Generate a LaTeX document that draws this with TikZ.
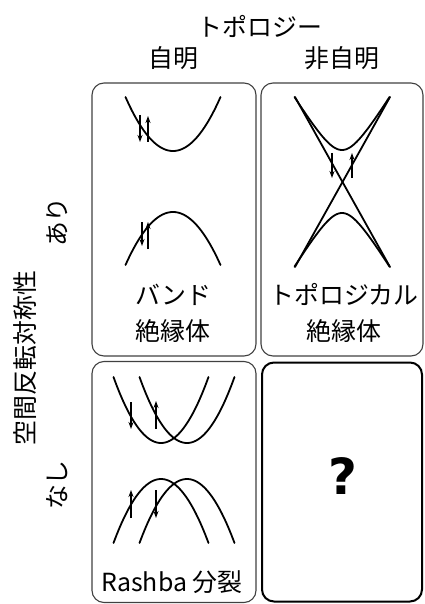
\documentclass[tikz,border=0pt]{standalone}
\usepackage{fontspec}
\setmainfont{Noto Sans CJK JP}
\newfontfamily\qfont{DejaVu Sans}
\usetikzlibrary{arrows.meta}
\tikzset{
  panel/.style={draw=black!75, line width=1.1bp, rounded corners=12bp, inner sep=0pt},
  panelbold/.style={draw=black, line width=2bp, rounded corners=12bp, inner sep=0pt},
  lbl/.style={font=\fontsize{25}{36}\selectfont, inner sep=0pt, align=center},
  band/.style={line width=1.8bp, line cap=round},
  spin/.style={line width=1.3bp, -{Stealth[length=7bp,width=5bp]}},
}
\begin{document}
\begin{tikzpicture}[x=1bp,y=-1bp]
\useasboundingbox (0,0) rectangle (424,604);
% panels
\node[panel, minimum width=164bp, minimum height=273bp] (tl) at (174,219.5) {};
\node[panel, minimum width=162bp, minimum height=273bp] (tr) at (342,219.5) {};
\node[panel, minimum width=164bp, minimum height=241bp] (bl) at (174,482) {};
\node[panelbold, minimum width=160bp, minimum height=239bp] (br) at (342,482) {};
% headers
\node[lbl] (topo) at (260,26) {トポロジー};
\node[lbl] (triv) at (173,58) {自明};
\node[lbl] (ntriv) at (342,58) {非自明};
\node[lbl, rotate=90] (sym) at (25,358) {空間反転対称性};
\node[lbl, rotate=90] (ari) at (57,222) {あり};
\node[lbl, rotate=90] (nasi) at (57,485) {なし};
% panel labels
\node[lbl] (bandins) at (173,313) {バンド\\絶縁体};
\node[lbl] (topins) at (344,313) {トポロジカル\\絶縁体};
\node[lbl] (rashba) at (172,582) {Rashba 分裂};
\node[font=\qfont\bfseries\fontsize{50}{50}\selectfont, inner sep=0pt] (q) at (343,476) {?};
% top-left: band insulator
\draw[band] plot[domain=-47.5:47.5, samples=60] ({173+\x}, {151-54*(\x/47.5)*(\x/47.5)});
\draw[band] plot[domain=-47.5:47.5, samples=60] ({173+\x}, {212+53*(\x/47.5)*(\x/47.5)});
\draw[spin] (140,115) -- (140,142);
\draw[spin] (148,142) -- (148,116);
\draw[spin] (142,222) -- (142,246);
\draw[spin] (148,249) -- (148,222);
% top-right: topological insulator
\draw[band] plot[domain=-47.5:47.5, samples=80] ({342+\x}, {182-sqrt(1.657*1.657*\x*\x+32*32)});
\draw[band] plot[domain=-47.5:47.5, samples=80] ({342+\x}, {182+sqrt(1.657*1.657*\x*\x+31*31)});
\coordinate (c1) at (295,97);
\coordinate (c2) at (390,267);
\coordinate (c3) at (390,97);
\coordinate (c4) at (295,267);
\draw[band] (c1) -- (c2);
\draw[band] (c3) -- (c4);
\draw[spin] (332,153) -- (332,178);
\draw[spin] (352,178) -- (352,153);
% bottom-left: Rashba
\draw[band] plot[domain=-47.5:47.5, samples=60] ({161+\x}, {443-66*(\x/47.5)*(\x/47.5)});
\draw[band] plot[domain=-47.5:47.5, samples=60] ({187+\x}, {443-66*(\x/47.5)*(\x/47.5)});
\draw[band] plot[domain=-47.5:47.5, samples=60] ({161+\x}, {479+64*(\x/47.5)*(\x/47.5)});
\draw[band] plot[domain=-47.5:47.5, samples=60] ({187+\x}, {479+64*(\x/47.5)*(\x/47.5)});
\draw[spin] (131,402) -- (131,429);
\draw[spin] (156,429) -- (156,401);
\draw[spin] (131,518) -- (131,490);
\draw[spin] (156,490) -- (156,518);
\end{tikzpicture}
\end{document}
